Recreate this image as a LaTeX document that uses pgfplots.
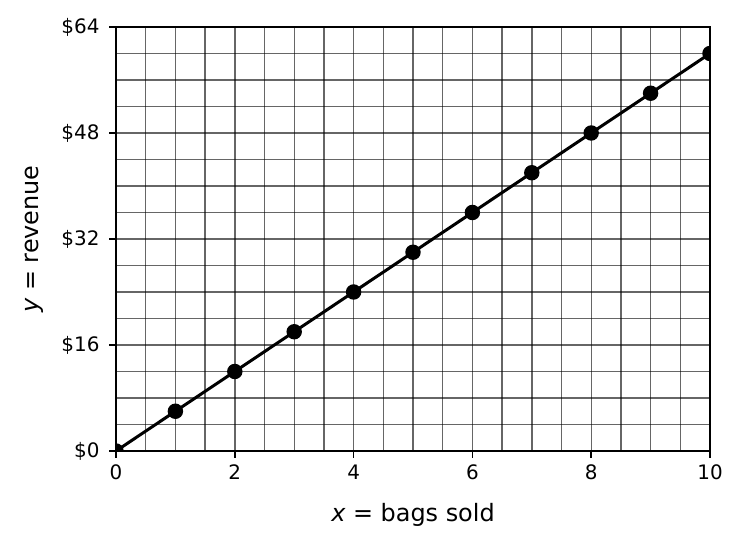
\documentclass[border=0pt]{standalone}
\usepackage{fontspec}
\setmainfont{DejaVu Sans}
\usepackage{pgfplots}
\pgfplotsset{compat=1.18}

\begin{document}
\begin{tikzpicture}[x=1bp,y=1bp]
\useasboundingbox (0,0) rectangle (743,550);
\begin{axis}[
  at={(116bp,99bp)}, anchor=south west,
  scale only axis, width=594bp, height=424bp,
  xmin=0, xmax=10, ymin=0, ymax=64,
  xtick={0,2,...,10}, ytick={0,16,...,64},
  minor x tick num=3, minor y tick num=3,
  grid=both,
  major grid style={black, opacity=0.6, line width=1.4bp},
  minor grid style={black, opacity=0.6, line width=1.4bp},
  tick align=outside, xtick pos=bottom, ytick pos=left,
  major tick length=7bp, minor tick length=0pt,
  every tick/.style={black, line width=1.5bp},
  axis line style={line width=1.6bp},
  clip marker paths=true,
  /pgf/number format/assume math mode=true,
  ticklabel style={font=\fontsize{20}{24}\selectfont},
  yticklabel={\$\pgfmathprintnumber{\tick}},
  xticklabel style={yshift=-3bp},
  yticklabel style={xshift=-6bp},
  label style={font=\fontsize{24}{28}\selectfont},
  xlabel={{\itshape x} = bags sold},
  ylabel={{\itshape y} = revenue},
  xlabel style={yshift=-17bp},
  ylabel style={yshift=11bp},
]
\addplot[black, line width=3bp, mark=*, mark size=6.2bp] coordinates {
  (0,0) (1,6) (2,12) (3,18) (4,24) (5,30) (6,36) (7,42) (8,48) (9,54) (10,60)
};
\end{axis}
\end{tikzpicture}
\end{document}
